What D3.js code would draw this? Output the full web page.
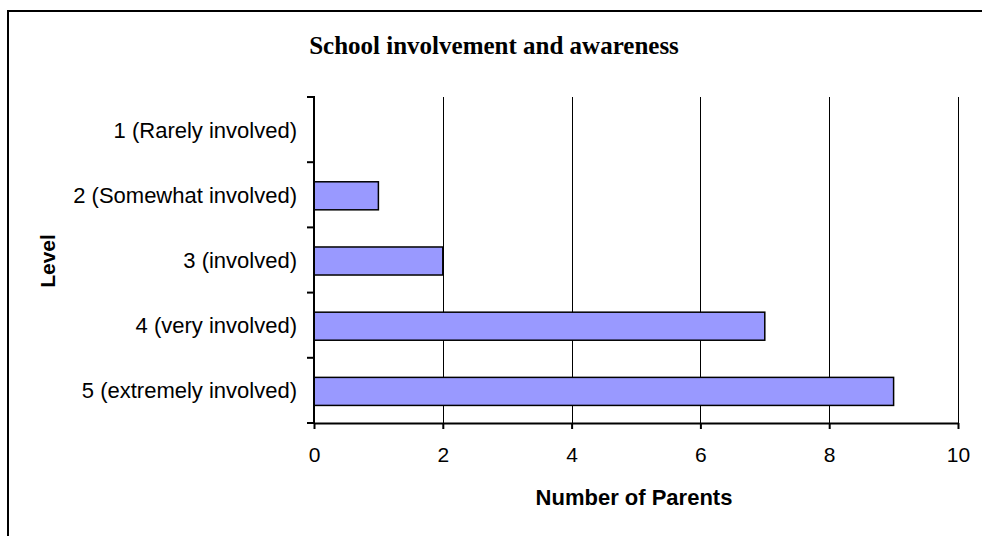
<!DOCTYPE html>
<html>
<head>
<meta charset="utf-8">
<script src="https://cdn.jsdelivr.net/npm/d3@7"></script>
<style>
  body { margin: 0; background: #fff; }
  text { font-family: Arial, "Liberation Sans", sans-serif; fill: #000; }
</style>
</head>
<body>
<script>
// chart data
var levels = ["1 (Rarely involved)", "2 (Somewhat involved)", "3 (involved)",
              "4 (very involved)", "5 (extremely involved)"];
var parents = [0, 1, 2, 7, 9];
var xTicks = [0, 2, 4, 6, 8, 10];

var data = levels.map(function(d, i) { return {level: d, count: parents[i]}; });

var W = 982, H = 536;
var plot = {left: 314, top: 97, right: 958, bottom: 423};

var svg = d3.select("body").append("svg")
    .attr("width", W)
    .attr("height", H);

// outer frame
svg.append("rect")
    .attr("x", 8).attr("y", 11)
    .attr("width", 1000).attr("height", 600)
    .attr("fill", "none")
    .attr("stroke", "#000")
    .attr("stroke-width", 2);

// scales
var x = d3.scaleLinear().domain([0, 10]).range([plot.left, plot.right]);
var y = d3.scaleBand().domain(levels).range([plot.top, plot.bottom]).padding(0);

// gridlines
svg.append("g")
  .selectAll("line")
  .data(xTicks.filter(function(d) { return d > 0; }))
  .enter().append("line")
    .attr("x1", function(d) { return Math.round(x(d)) + 0.5; })
    .attr("x2", function(d) { return Math.round(x(d)) + 0.5; })
    .attr("y1", plot.top)
    .attr("y2", plot.bottom)
    .attr("stroke", "#000")
    .attr("stroke-width", 1);

// bars
var barH = y.bandwidth() * 0.43;
svg.append("g")
  .selectAll("rect")
  .data(data.filter(function(d) { return d.count > 0; }))
  .enter().append("rect")
    .attr("x", x(0))
    .attr("y", function(d) { return y(d.level) + (y.bandwidth() - barH) / 2 + 1; })
    .attr("width", function(d) { return x(d.count) - x(0); })
    .attr("height", barH)
    .attr("fill", "#9999ff")
    .attr("stroke", "#000")
    .attr("stroke-width", 1.5);

// x axis
var xAxis = svg.append("g")
    .attr("transform", "translate(0," + plot.bottom + ")")
    .call(d3.axisBottom(x).tickValues(xTicks).tickSize(6).tickSizeOuter(0).tickPadding(18));
xAxis.select(".domain").attr("stroke-width", 2);
xAxis.selectAll(".tick line").attr("stroke-width", 2);
xAxis.selectAll(".tick text")
    .attr("font-size", 21)
    .attr("font-family", "Arial, 'Liberation Sans', sans-serif");

// y axis (ticks on the band boundaries)
var yAxis = svg.append("g");
yAxis.append("line")
    .attr("x1", plot.left).attr("x2", plot.left)
    .attr("y1", plot.top - 1).attr("y2", plot.bottom + 1)
    .attr("stroke", "#000").attr("stroke-width", 2);
var bounds = levels.map(function(d) { return y(d); }).concat([plot.bottom]);
yAxis.selectAll(".bnd")
  .data(bounds)
  .enter().append("line")
    .attr("x1", plot.left - 7).attr("x2", plot.left)
    .attr("y1", function(d) { return d; })
    .attr("y2", function(d) { return d; })
    .attr("stroke", "#000").attr("stroke-width", 2);
yAxis.selectAll(".lbl")
  .data(levels)
  .enter().append("text")
    .attr("x", 297)
    .attr("y", function(d) { return y(d) + y.bandwidth() / 2 + 8; })
    .attr("text-anchor", "end")
    .attr("font-size", 22)
    .text(function(d) { return d; });

// title
svg.append("text")
    .attr("x", 494).attr("y", 54)
    .attr("text-anchor", "middle")
    .attr("font-size", 25)
    .attr("font-weight", "bold")
    .style("font-family", "'Times New Roman', 'Liberation Serif', serif")
    .text("School involvement and awareness");

// axis titles
svg.append("text")
    .attr("x", 634).attr("y", 505)
    .attr("text-anchor", "middle")
    .attr("font-size", 22)
    .attr("font-weight", "bold")
    .text("Number of Parents");

svg.append("text")
    .attr("transform", "translate(55,261) rotate(-90)")
    .attr("text-anchor", "middle")
    .attr("font-size", 21)
    .attr("font-weight", "bold")
    .text("Level");
</script>
</body>
</html>
